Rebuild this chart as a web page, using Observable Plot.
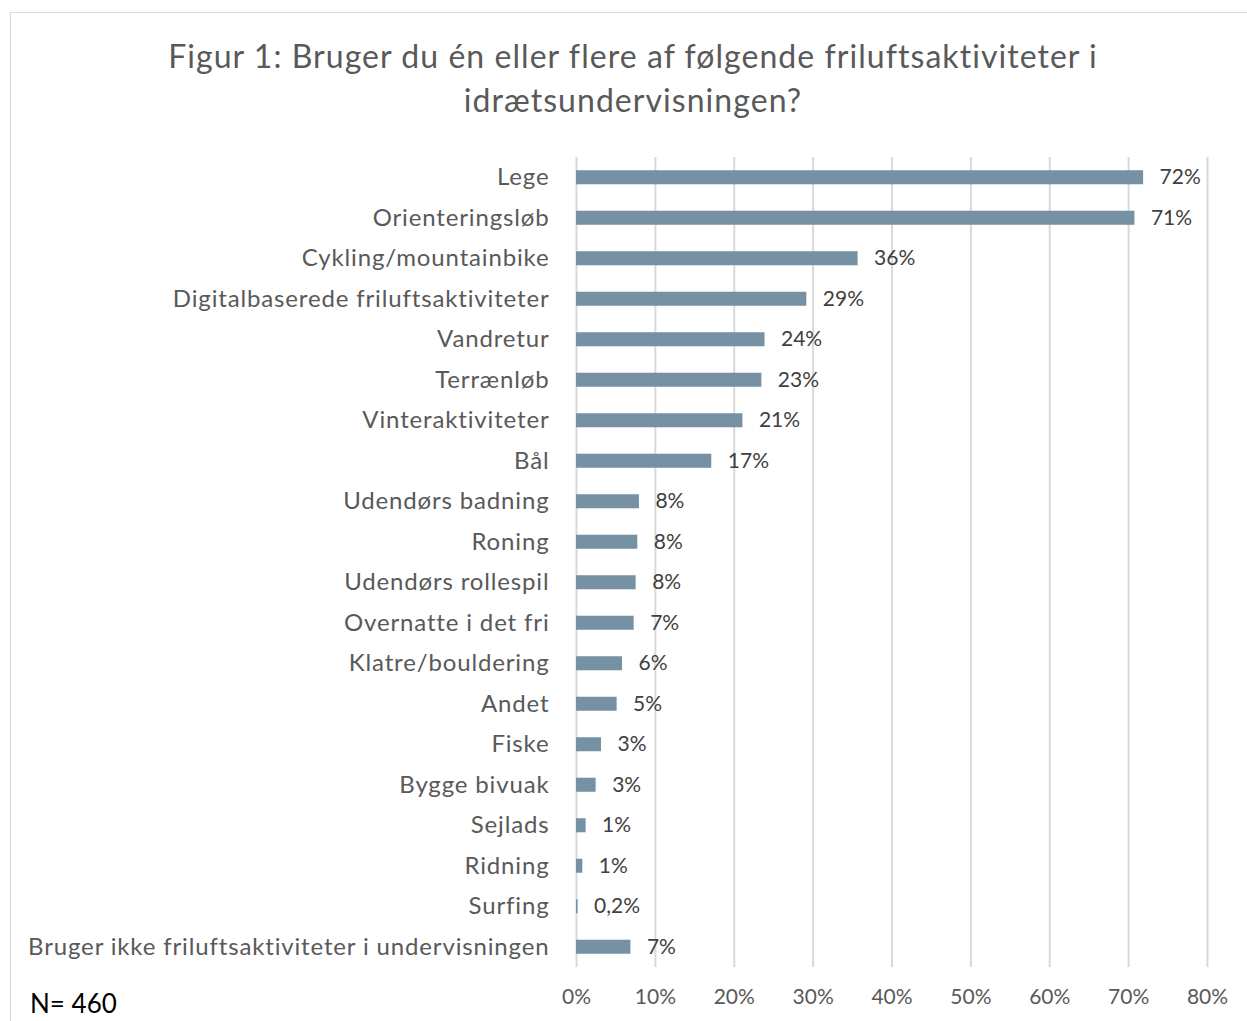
<!DOCTYPE html>
<html>
<head>
<meta charset="utf-8">
<script src="https://cdn.jsdelivr.net/npm/d3@7"></script>
<script src="https://cdn.jsdelivr.net/npm/@observablehq/plot@0.6"></script>
<style>
  html, body { margin: 0; padding: 0; background: #fff; }
  #wrap { position: relative; width: 1247px; height: 1021px; overflow: hidden; font-family: Lato, "Noto Sans", sans-serif; }
  #frame { position: absolute; left: 10px; top: 12px; width: 1300px; height: 1100px; border: 1px solid #d9d9d9; box-sizing: border-box; }
  #title { position: absolute; left: 0; top: 34px; width: 1266px; text-align: center; font-size: 32px; letter-spacing: 1.05px; line-height: 44px; color: #595959; }
  #chart { position: absolute; left: 0; top: 0; }
  #note { position: absolute; left: 30px; top: 987px; font-size: 26px; color: #000; }
  #chart g[aria-label="y-axis tick label"] text { letter-spacing: 0.85px; }
</style>
</head>
<body>
<div id="wrap">
  <div id="frame"></div>
  <div id="chart"></div>
  <div id="title">Figur 1: Bruger du én eller flere af følgende friluftsaktiviteter i<br>idrætsundervisningen?</div>
  <div id="note">N= 460</div>
</div>
<script>
const categories = [
  "Lege", "Orienteringsløb", "Cykling/mountainbike", "Digitalbaserede friluftsaktiviteter",
  "Vandretur", "Terrænløb", "Vinteraktiviteter", "Bål", "Udendørs badning", "Roning",
  "Udendørs rollespil", "Overnatte i det fri", "Klatre/bouldering", "Andet", "Fiske",
  "Bygge bivuak", "Sejlads", "Ridning", "Surfing", "Bruger ikke friluftsaktiviteter i undervisningen"
];
const values = [71.9, 70.8, 35.7, 29.2, 23.9, 23.5, 21.1, 17.15, 7.98, 7.77, 7.56, 7.31, 5.83, 5.15, 3.17, 2.49, 1.22, 0.8, 0.2, 6.9];
const valueLabels = ["72%", "71%", "36%", "29%", "24%", "23%", "21%", "17%", "8%", "8%", "8%", "7%", "6%", "5%", "3%", "3%", "1%", "1%", "0,2%", "7%"];
const xTicks = [0, 10, 20, 30, 40, 50, 60, 70, 80];

const data = categories.map((c, i) => ({ cat: c, v: values[i], lab: valueLabels[i] }));

const chart = Plot.plot({
  width: 1247,
  height: 1021,
  marginLeft: 576,
  marginRight: 40,
  marginTop: 157,
  marginBottom: 54,
  style: { fontFamily: "Lato, 'Noto Sans', sans-serif", background: "transparent", overflow: "visible" },
  x: { domain: [0, 80], ticks: xTicks, tickFormat: d => d + "%", tickSize: 0, tickPadding: 22, label: null },
  y: { domain: categories, paddingInner: 0.654, paddingOuter: 0.327, round: false, tickSize: 0, tickPadding: 27, label: null },
  marks: [
    Plot.ruleX(xTicks, { stroke: "#d9d9d9", strokeWidth: 2 }),
    Plot.barX(data, { x: "v", y: "cat", fill: "#7591a3" }),
    Plot.text(data, { x: "v", y: "cat", text: "lab", textAnchor: "start", dx: 16, fontSize: 21, fill: "#404040" }),
    Plot.axisX({ ticks: xTicks, tickFormat: d => d + "%", tickSize: 0, tickPadding: 22, fontSize: 21, color: "#595959", label: null }),
    Plot.axisY({ tickSize: 0, tickPadding: 27, fontSize: 24, color: "#595959", label: null })
  ]
});
document.getElementById("chart").appendChild(chart);
</script>
</body>
</html>
